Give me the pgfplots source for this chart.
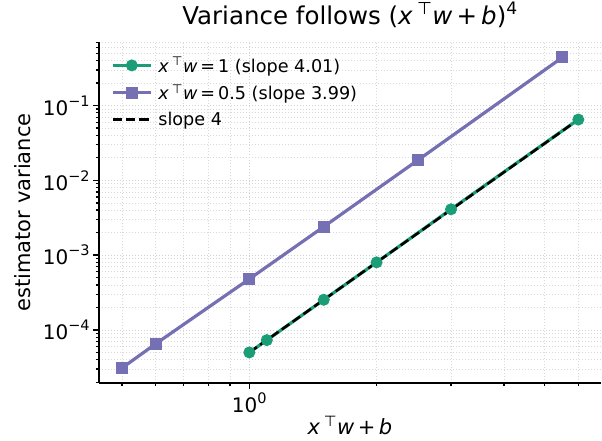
\documentclass[border=0pt]{standalone}
\usepackage{pgfplots}
\pgfplotsset{compat=1.18}
\usepackage{fontspec}
\setmainfont{DejaVu Sans}
\definecolor{cgreen}{HTML}{1B9E77}
\definecolor{cpurple}{HTML}{7570B3}
\newcommand{\xtw}{\textit{x}\,\textsuperscript{⊤}\textit{w}}
\newcommand{\tsup}[1]{\raisebox{0.45em}{\fontsize{14.5}{14.5}\selectfont #1}}
\pgfplotstableread{
x y
1 5.0e-5
1.1 7.3e-5
1.5 2.53e-4
2 8.0e-4
3 4.1e-3
6 6.5e-2
}\green
\pgfplotstableread{
x y
0.5 3.1e-5
0.6 6.5e-5
1.0 4.8e-4
1.5 2.4e-3
2.5 1.85e-2
5.5 0.44
}\purple
\pgfplotstableread{
x y
1 5.0e-5
6 6.48e-2
}\slopefour
\begin{document}
\begin{tikzpicture}
\useasboundingbox (-99pt,-57pt) rectangle (503pt,383pt);
\begin{axis}[
  at={(0pt,0pt)}, anchor=south west,
  scale only axis, width=502pt, height=341pt,
  xmode=log, ymode=log,
  xmin=0.441, xmax=6.79, ymin=1.95e-5, ymax=0.708,
  axis x line*=bottom, axis y line*=left,
  axis line style={line width=1.4pt, black, -},
  tick align=outside,
  major tick length=5.8pt, minor tick length=3.3pt,
  every tick/.style={black, line width=1.3pt},
  xtick={1}, xticklabels={10\tsup{0}},
  minor xtick={0.5,0.6,0.7,0.8,0.9,2,3,4,5,6},
  ytick={1e-4,1e-3,1e-2,1e-1},
  yticklabels={10\tsup{−4},10\tsup{−3},10\tsup{−2},10\tsup{−1}},
  minor ytick={2e-5,3e-5,4e-5,5e-5,6e-5,7e-5,8e-5,9e-5,
    2e-4,3e-4,4e-4,5e-4,6e-4,7e-4,8e-4,9e-4,
    2e-3,3e-3,4e-3,5e-3,6e-3,7e-3,8e-3,9e-3,
    2e-2,3e-2,4e-2,5e-2,6e-2,7e-2,8e-2,9e-2,
    2e-1,3e-1,4e-1,5e-1,6e-1,7e-1},
  ticklabel style={font=\fontsize{20}{24}\selectfont},
  grid=both,
  major grid style={gray!35, line width=0.8pt, dash pattern=on 1pt off 2pt},
  minor grid style={gray!30, line width=0.7pt, dash pattern=on 1pt off 2pt},
  title={Variance follows (\xtw\,+\,\textit{b})\textsuperscript{4}},
  title style={font=\fontsize{24.5}{28}\selectfont, at={(axis description cs:0.5,1)}, anchor=base, yshift=12pt},
  xlabel={\xtw\,+\,\textit{b}},
  xlabel style={font=\fontsize{21}{25}\selectfont, at={(axis description cs:0.5,0)}, anchor=base, yshift=-51pt},
  ylabel={estimator variance},
  ylabel style={font=\fontsize{21}{25}\selectfont, at={(axis description cs:-0.153,0.5)}, anchor=center, rotate=0},
  legend style={at={(axis description cs:0,1)}, anchor=north west, draw=none, fill=none,
    font=\fontsize{17.6}{21}\selectfont, row sep=7pt, xshift=9pt, yshift=-11pt,
    nodes={inner sep=2pt}},
  legend cell align=left,
  legend image code/.code={\draw[mark repeat=2,mark phase=2,#1] plot coordinates {(0pt,0pt) (19pt,0pt) (38pt,0pt)};},
  legend style={column sep=4pt},
]
\addplot[cgreen, line width=3.2pt, mark=*, mark size=5.5pt, mark options={solid, fill=cgreen, draw=cgreen, line width=1pt}] table[x=x,y=y] {\green};
\addlegendentry{\xtw\,=\,1 (slope 4.01)}
\addplot[cpurple, line width=3.2pt, mark=square*, mark size=5.5pt, mark options={solid, fill=cpurple, draw=cpurple, line width=1pt}] table[x=x,y=y] {\purple};
\addlegendentry{\xtw\,=\,0.5 (slope 3.99)}
\addplot[black, line width=2.5pt, dash pattern=on 9.25pt off 4pt, no marks] table[x=x,y=y] {\slopefour};
\addlegendentry{slope 4}
\end{axis}
\end{tikzpicture}
\end{document}
